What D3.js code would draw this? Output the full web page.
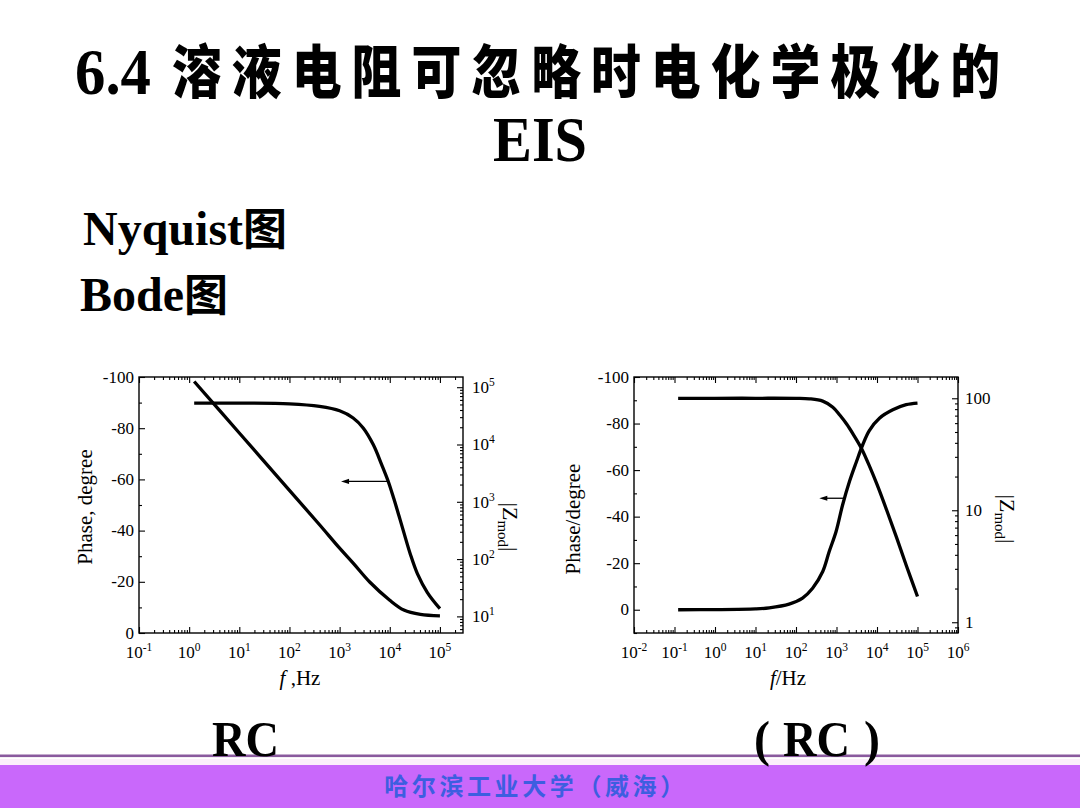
<!DOCTYPE html>
<html><head><meta charset="utf-8">
<script src="https://cdn.jsdelivr.net/npm/d3@7/dist/d3.min.js"></script>
<style>
body{margin:0;background:#fff;}
svg{display:block;}
</style>
</head><body>
<svg id="c" width="1080" height="810"></svg>
<script>
// ---------- DATA ----------
// Left panel: series RC (Bode)
const rcFreqPhase = [1.26, 10, 100, 398, 1000, 1862, 2951, 4677, 6918, 9333, 12023, 15136, 19055, 25704, 35481, 56234, 100000];
const rcPhase     = [-89.8, -89.8, -89.5, -88.5, -86.8, -84.0, -80.1, -73.6, -65.7, -59.2, -52.5, -46.0, -39.3, -30.8, -23.2, -15.8, -9.5];
const rcFreqZ     = [1.26, 10, 100, 398, 1000, 1862, 3981, 10000, 19055, 40738, 100000];
const rcZmod      = [125900, 15850, 1585, 398, 155, 85.1, 39.8, 19.1, 12.9, 10.8, 10.2];
// Right panel: parallel (RC)
const prcFreqPhase = [0.123, 1, 10, 21.9, 67.6, 145, 257, 457, 661, 977, 1413, 2089, 3090, 4467, 6457, 11482, 24547, 52481, 100000];
const prcPhase     = [0, -0.05, -0.35, -0.8, -2.4, -5.0, -9.2, -16.4, -25.0, -33.6, -45.0, -55.1, -63.5, -71.0, -77.0, -82.3, -85.9, -88.1, -88.8];
const prcFreqZ     = [0.123, 1, 10, 100, 214, 457, 813, 1202, 1778, 2570, 4169, 6761, 10000, 17378, 30200, 53703, 100000];
const prcZmod      = [100, 100, 100, 99.8, 98.9, 94.4, 83.2, 70.8, 58.9, 47.9, 35.5, 24.0, 17.0, 10.0, 5.75, 3.16, 1.70];
// Tick labels
const leftXExp   = [-1, 0, 1, 2, 3, 4, 5];
const leftPhaseTicks = [0, -20, -40, -60, -80, -100];
const leftZExp   = [1, 2, 3, 4, 5];
const rightXExp  = [-2, -1, 0, 1, 2, 3, 4, 5, 6];
const rightPhaseTicks = [0, -20, -40, -60, -80, -100];
const rightZTicks = [1, 10, 100];
// Arrows (phase level, from frequency, to frequency)
const leftArrow  = {phase: -59.2, from: 9333, to: 1070};
const rightArrow = {phase: -47.9, from: 1600, to: 376};
// Texts
const titleNum = "6.4";
const titleCn = "溶液电阻可忽略时电化学极化的";
const titleLine2 = "EIS";
const footer = "哈尔滨工业大学（威海）";

// ---------- DRAW ----------
const svg = d3.select("#c");
const SERIF = '"Liberation Serif","Times New Roman",serif';
const CJK = '"Noto Sans CJK SC","Noto Sans CJK TC",sans-serif';

// Title
svg.append("text").attr("x",75).attr("y",94).attr("font-family",SERIF).attr("font-weight","bold")
  .attr("font-size",66).attr("textLength",76).attr("lengthAdjust","spacingAndGlyphs").text(titleNum);
svg.append("g").attr("transform","translate(172,93) scale(0.86,1)")
  .append("text").attr("x",0).attr("y",0).attr("font-family",CJK).attr("font-weight",900)
  .attr("font-size",58).attr("textLength",828/0.86).attr("lengthAdjust","spacing").text(titleCn);
svg.append("text").attr("x",493).attr("y",161).attr("font-family",SERIF).attr("font-weight","bold")
  .attr("font-size",63).attr("textLength",94).attr("lengthAdjust","spacingAndGlyphs").text(titleLine2);

function labelWithCjk(x, y, latin, cjk){
  const t = svg.append("text").attr("x",x).attr("y",y).attr("font-size",48);
  t.append("tspan").attr("font-family",SERIF).attr("font-weight","bold").text(latin);
  t.append("tspan").attr("font-family",CJK).attr("font-weight",700).attr("font-size",44).text(cjk);
}
labelWithCjk(83, 245, "Nyquist", "图");
labelWithCjk(80, 311, "Bode", "图");

// Footer
svg.append("rect").attr("x",0).attr("y",754.5).attr("width",1080).attr("height",2.6).attr("fill","#8a5a9e");
svg.append("rect").attr("x",0).attr("y",759).attr("width",1080).attr("height",6).attr("fill","#fbeefb");
svg.append("rect").attr("x",0).attr("y",765).attr("width",1080).attr("height",43).attr("fill","#c968fb");
svg.append("text").attr("x",536).attr("y",795).attr("text-anchor","middle").attr("font-family",CJK)
  .attr("font-weight",700).attr("font-size",24).attr("letter-spacing",3.6).attr("fill","#3d5ee0").text(footer);

function boldSerif(x, y, s, len){
  const t = svg.append("text").attr("x",x).attr("y",y).attr("font-family",SERIF).attr("font-weight","bold")
    .attr("font-size",50).text(s);
  if(len) t.attr("textLength",len).attr("lengthAdjust","spacingAndGlyphs");
}
boldSerif(212, 756, "RC", 67);
boldSerif(754, 756, "(", 16);
boldSerif(783, 756, "RC", 67);
boldSerif(864, 756, ")", 16);

function logMinors(domain){
  const out=[]; const lo=Math.floor(Math.log10(domain[0])), hi=Math.ceil(Math.log10(domain[1]));
  for(let e=lo;e<=hi;e++) for(let k=2;k<=9;k++){const v=k*Math.pow(10,e); if(v>=domain[0]&&v<=domain[1]) out.push(v);}
  return out;
}
function linMinors(domain, step){
  const lo=Math.min(domain[0],domain[1]), hi=Math.max(domain[0],domain[1]); const out=[];
  for(let v=Math.ceil(lo/step)*step; v<=hi; v+=step){ if(Math.abs(v/(2*step)-Math.round(v/(2*step)))>0.01) out.push(v);}
  return out;
}

function drawPanel(cfg){
  const g = svg.append("g");
  const x = d3.scaleLog().domain(cfg.xDomain).range([cfg.left, cfg.right]);
  const yL = d3.scaleLinear().domain(cfg.pDomain).range([cfg.bottom, cfg.top]);
  const yR = d3.scaleLog().domain(cfg.zDomain).range([cfg.bottom, cfg.top]);
  const W = cfg.right-cfg.left, H = cfg.bottom-cfg.top;

  const axStyle = sel => { sel.select(".domain").remove(); sel.selectAll("line").attr("stroke","#000").attr("stroke-width",1.1); sel.selectAll("text").remove(); };
  const xMaj = cfg.xExp.map(e=>Math.pow(10,e)).filter(v=>v>=cfg.xDomain[0]&&v<=cfg.xDomain[1]);
  const xMin = logMinors(cfg.xDomain);
  g.append("g").attr("transform",`translate(0,${cfg.bottom})`).call(d3.axisBottom(x).tickValues(xMaj).tickSize(-6)).call(axStyle);
  g.append("g").attr("transform",`translate(0,${cfg.bottom})`).call(d3.axisBottom(x).tickValues(xMin).tickSize(-3)).call(axStyle);
  g.append("g").attr("transform",`translate(0,${cfg.top})`).call(d3.axisTop(x).tickValues(xMaj).tickSize(-6)).call(axStyle);
  g.append("g").attr("transform",`translate(0,${cfg.top})`).call(d3.axisTop(x).tickValues(xMin).tickSize(-3)).call(axStyle);
  g.append("g").attr("transform",`translate(${cfg.left},0)`).call(d3.axisLeft(yL).tickValues(cfg.pTicks).tickSize(-6)).call(axStyle);
  g.append("g").attr("transform",`translate(${cfg.left},0)`).call(d3.axisLeft(yL).tickValues(linMinors(cfg.pDomain,10)).tickSize(-3)).call(axStyle);
  g.append("g").attr("transform",`translate(${cfg.right},0)`).call(d3.axisRight(yR).tickValues(cfg.zTicks).tickSize(-6)).call(axStyle);
  g.append("g").attr("transform",`translate(${cfg.right},0)`).call(d3.axisRight(yR).tickValues(logMinors(cfg.zDomain)).tickSize(-3)).call(axStyle);

  g.append("rect").attr("x",cfg.left).attr("y",cfg.top).attr("width",W).attr("height",H)
    .attr("fill","none").attr("stroke","#000").attr("stroke-width",1.4);

  // x labels
  cfg.xExp.forEach(e=>{
    const t = g.append("text").attr("x",x(Math.pow(10,e))).attr("y",cfg.bottom+25).attr("text-anchor","middle")
      .attr("font-family",SERIF).attr("font-size",17);
    t.append("tspan").text("10");
    t.append("tspan").attr("dy",-7).attr("font-size",11.5).text(String(e));
  });
  // left labels
  cfg.pTicks.forEach(v=>{
    g.append("text").attr("x",cfg.left-5).attr("y",yL(v)+5.5).attr("text-anchor","end")
      .attr("font-family",SERIF).attr("font-size",17).text(String(v));
  });
  // right labels
  cfg.zTicks.forEach(v=>{
    const t = g.append("text").attr("x",cfg.right+cfg.zLabelDx).attr("y",yR(v)+6)
      .attr("font-family",SERIF).attr("font-size",17);
    if(cfg.zPow){ t.append("tspan").text("10"); t.append("tspan").attr("dy",-7).attr("font-size",11.5).text(String(Math.round(Math.log10(v)))); }
    else t.text(String(v));
  });
  // axis titles
  g.append("text").attr("transform",`translate(${cfg.yTitleX},${cfg.yTitleY}) rotate(-90)`).attr("text-anchor","middle")
    .attr("font-family",SERIF).attr("font-size",21).text(cfg.yTitle);
  const zt = g.append("text").attr("transform",`translate(${cfg.zTitleX},${cfg.zTitleY}) rotate(90)`).attr("text-anchor","middle")
    .attr("font-family",SERIF).attr("font-size",22);
  zt.append("tspan").text("|Z");
  zt.append("tspan").attr("dy",5).attr("font-size",15).text("mod");
  zt.append("tspan").attr("dy",-5).text("|");
  const xt = g.append("text").attr("x",cfg.xTitleX).attr("y",cfg.bottom+52).attr("text-anchor","middle")
    .attr("font-family",SERIF).attr("font-size",21);
  xt.append("tspan").attr("font-style","italic").text("f");
  xt.append("tspan").text(cfg.xTitleRest);

  // curves
  const cv = d3.curveCatmullRom.alpha(0.5);
  const lineP = d3.line().x(d=>x(d[0])).y(d=>yL(d[1])).curve(cv);
  const lineZ = d3.line().x(d=>x(d[0])).y(d=>yR(d[1])).curve(cv);
  g.append("path").attr("d",lineP(d3.zip(cfg.fP,cfg.phase))).attr("fill","none").attr("stroke","#000").attr("stroke-width",3.3);
  g.append("path").attr("d",lineZ(d3.zip(cfg.fZ,cfg.zmod))).attr("fill","none").attr("stroke","#000").attr("stroke-width",3.3);

  // arrow
  const ay = yL(cfg.arrow.phase), ax0 = x(cfg.arrow.from), ax1 = x(cfg.arrow.to);
  g.append("line").attr("x1",ax0).attr("x2",ax1+5).attr("y1",ay).attr("y2",ay).attr("stroke","#000").attr("stroke-width",1.3);
  g.append("path").attr("d",`M${ax1},${ay} L${ax1+8},${ay-2.6} L${ax1+8},${ay+2.6} Z`).attr("fill","#000");
}

drawPanel({
  left:139, right:463, top:377, bottom:633,
  xDomain:[0.1, Math.pow(10,5.46)], pDomain:[0,-100], zDomain:[Math.pow(10,0.71), Math.pow(10,5.178)],
  xExp:leftXExp, pTicks:leftPhaseTicks, zTicks:leftZExp.map(e=>Math.pow(10,e)), zPow:true, zLabelDx:9,
  yTitle:"Phase, degree", yTitleX:92, yTitleY:507, zTitleX:503, zTitleY:527, xTitleX:300, xTitleRest:" ,Hz",
  fP:rcFreqPhase, phase:rcPhase, fZ:rcFreqZ, zmod:rcZmod, arrow:leftArrow
});
drawPanel({
  left:634, right:958, top:377, bottom:633,
  xDomain:[0.01, 1e6], pDomain:[10,-100], zDomain:[Math.pow(10,-0.096), Math.pow(10,2.19)],
  xExp:rightXExp, pTicks:rightPhaseTicks, zTicks:rightZTicks, zPow:false, zLabelDx:7,
  yTitle:"Phase/degree", yTitleX:580, yTitleY:519, zTitleX:1000, zTitleY:519, xTitleX:788, xTitleRest:"/Hz",
  fP:prcFreqPhase, phase:prcPhase, fZ:prcFreqZ, zmod:prcZmod, arrow:rightArrow
});
</script>
</body></html>
